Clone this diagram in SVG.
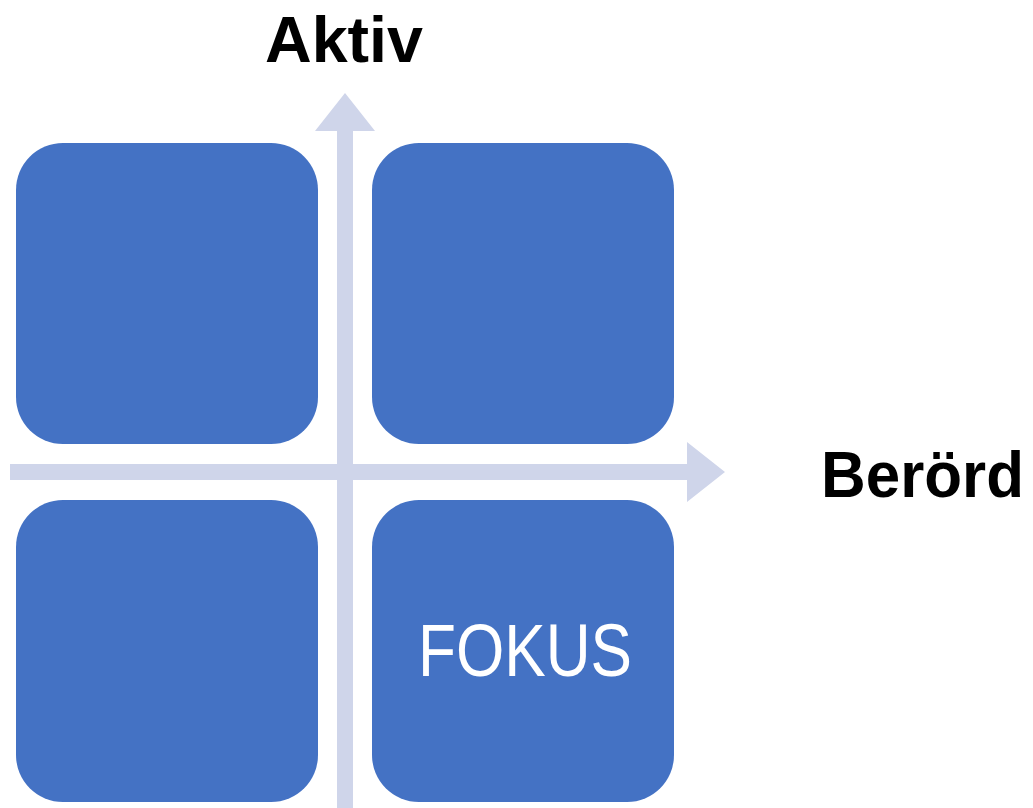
<svg xmlns="http://www.w3.org/2000/svg" width="1033" height="808" viewBox="0 0 1033 808">
<style>
.box{fill:#4472C4}
.ax{fill:#CFD5EA}
.lbl{font-family:"Liberation Sans",Arial,sans-serif;font-weight:bold;fill:#000}
.in{font-family:"Liberation Sans",Arial,sans-serif;fill:#fff}
</style>
<rect width="1033" height="808" fill="#fff"/>
<g id="connectors">
<polygon class="ax" points="10,464 687,464 687,442 725,472 687,502 687,480 10,480"/>
<polygon class="ax" points="337,808 337,131 315,131 345,93 375,131 353,131 353,808"/>
</g>
<g id="q1"><rect class="box" x="16" y="143" width="302" height="301" rx="47"/></g>
<g id="q2"><rect class="box" x="372" y="143" width="302" height="301" rx="47"/></g>
<g id="q3"><rect class="box" x="16" y="500" width="302" height="302" rx="47"/></g>
<g id="q4"><rect class="box" x="372" y="500" width="302" height="302" rx="47"/>
<text class="in" x="418" y="676" font-size="74" textLength="214" lengthAdjust="spacingAndGlyphs">FOKUS</text></g>
<g id="aktiv"><text class="lbl" x="265" y="62" font-size="65" textLength="158" lengthAdjust="spacingAndGlyphs">Aktiv</text></g>
<g id="berord"><text class="lbl" x="821" y="497" font-size="65" textLength="203" lengthAdjust="spacingAndGlyphs">Berörd</text></g>
</svg>
